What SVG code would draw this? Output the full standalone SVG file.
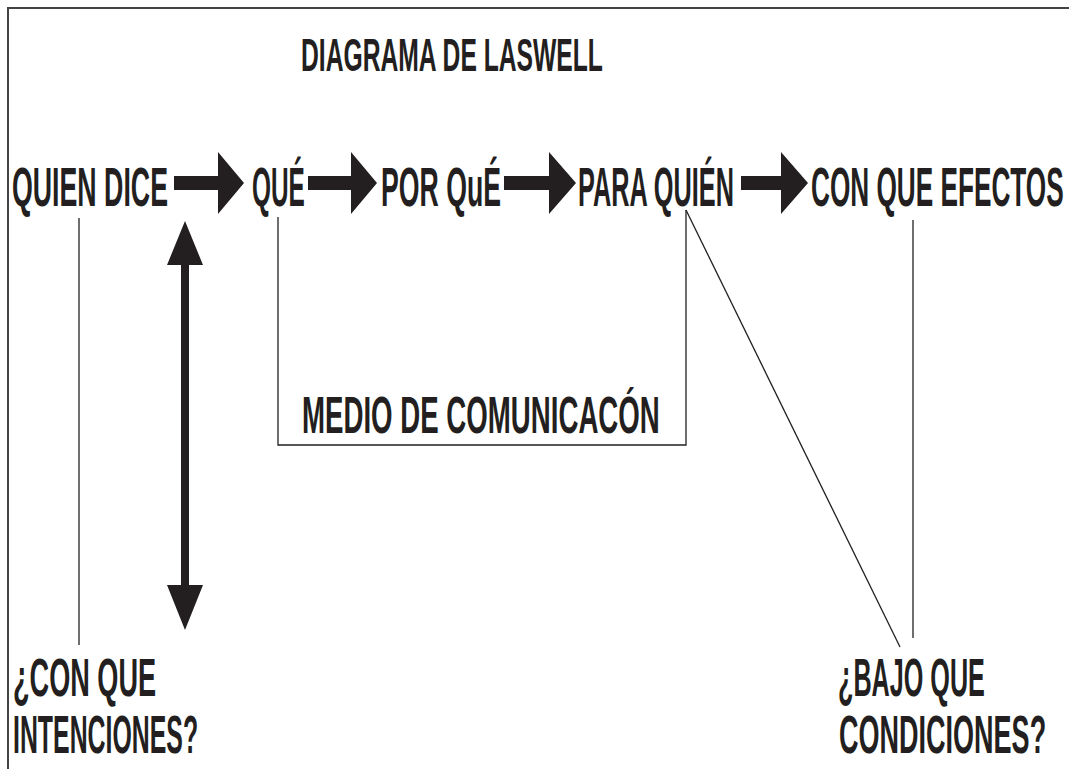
<svg xmlns="http://www.w3.org/2000/svg" width="1069" height="769" viewBox="0 0 1069 769">
<style>
.t{font-family:"Liberation Sans",Arial,sans-serif;font-weight:bold;fill:#231f20}
.ln{fill:none;stroke:#231f20;stroke-width:1.3}
.ar{fill:#231f20;stroke:none}
.frame{fill:none;stroke:#444;stroke-width:2}
</style>
<rect width="1069" height="769" fill="#fff"/>
<path class="frame" d="M8,769 V8 H1069"/>
<g id="title"><text class="t" transform="translate(301,71) scale(0.552,1)" font-size="46" textLength="547" lengthAdjust="spacingAndGlyphs">DIAGRAMA DE LASWELL</text></g>
<g id="quien"><text class="t" transform="translate(12,206) scale(0.477,1)" font-size="56" textLength="327" lengthAdjust="spacingAndGlyphs">QUIEN DICE</text></g>
<g id="que"><text class="t" transform="translate(252,206) scale(0.437,1)" font-size="56" textLength="121" lengthAdjust="spacingAndGlyphs">QUÉ</text></g>
<g id="porque"><text class="t" transform="translate(381,206) scale(0.482,1)" font-size="56" textLength="249" lengthAdjust="spacingAndGlyphs">POR QuÉ</text></g>
<g id="paraquien"><text class="t" transform="translate(578,206) scale(0.452,1)" font-size="56" textLength="345" lengthAdjust="spacingAndGlyphs">PARA QUIÉN</text></g>
<g id="efectos"><text class="t" transform="translate(811,206) scale(0.467,1)" font-size="56" textLength="541" lengthAdjust="spacingAndGlyphs">CON QUE EFECTOS</text></g>
<g id="medio"><text class="t" transform="translate(302,433) scale(0.534,1)" font-size="52" textLength="670" lengthAdjust="spacingAndGlyphs">MEDIO DE COMUNICACÓN</text></g>
<g id="intenciones">
<text class="t" transform="translate(13,696) scale(0.502,1)" font-size="54" textLength="285" lengthAdjust="spacingAndGlyphs">¿CON QUE</text>
<text class="t" transform="translate(13,753) scale(0.464,1)" font-size="54" textLength="399" lengthAdjust="spacingAndGlyphs">INTENCIONES?</text>
</g>
<g id="condiciones">
<text class="t" transform="translate(838,696) scale(0.48,1)" font-size="54" textLength="306" lengthAdjust="spacingAndGlyphs">¿BAJO QUE</text>
<text class="t" transform="translate(839,753) scale(0.504,1)" font-size="54" textLength="411" lengthAdjust="spacingAndGlyphs">CONDICIONES?</text>
</g>
<g id="connectors">
<path class="ar" d="M174,176 H218 V152 L244,183 L218,214 V190 H174 Z"/>
<path class="ar" d="M308,176 H351 V152 L377,183 L351,214 V190 H308 Z"/>
<path class="ar" d="M504,176 H549 V152 L576,183 L549,214 V190 H504 Z"/>
<path class="ar" d="M741,176 H781 V152 L808,183 L781,214 V190 H741 Z"/>
<path class="ar" d="M185,221 L203,265 H189 V585 H203 L185,630 L167,585 H181 V265 H167 Z"/>
<path class="ln" d="M79,218 V645"/>
<path class="ln" d="M278,217 V445 H686 V210"/>
<path class="ln" d="M686,210 L900,647"/>
<path class="ln" d="M913,220 V638"/>
</g>
</svg>
